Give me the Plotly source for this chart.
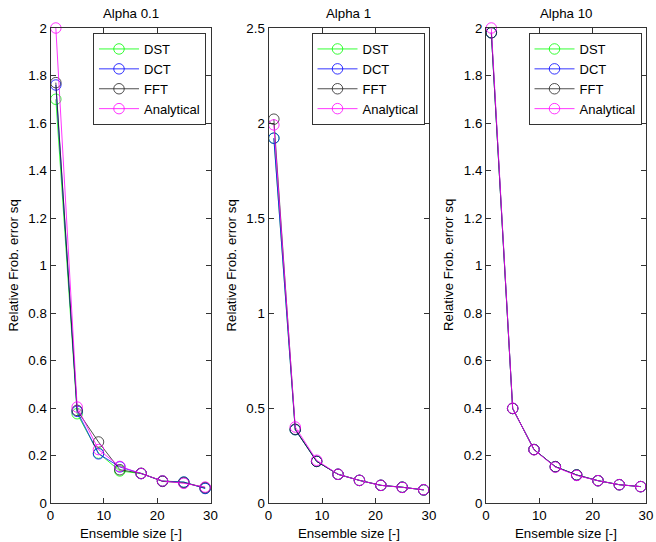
import plotly.graph_objects as go

ensemble = [1, 5, 9, 13, 17, 21, 25, 29]
titles = ["Alpha 0.1", "Alpha 1", "Alpha 10"]
methods = ["DST", "DCT", "FFT", "Analytical"]
xlabel = "Ensemble size [-]"
ylabel = "Relative Frob. error sq"

# Panel 1: Alpha 0.1
a01_dst = [1.70, 0.376, 0.210, 0.135, 0.124, 0.093, 0.088, 0.062]
a01_dct = [1.76, 0.386, 0.207, 0.152, 0.124, 0.092, 0.088, 0.061]
a01_fft = [1.77, 0.390, 0.257, 0.140, 0.125, 0.091, 0.085, 0.065]
a01_ana = [2.00, 0.404, 0.225, 0.154, 0.124, 0.093, 0.083, 0.067]

# Panel 2: Alpha 1
a1_dst = [1.92, 0.386, 0.219, 0.151, 0.119, 0.093, 0.083, 0.069]
a1_dct = [1.92, 0.386, 0.219, 0.151, 0.119, 0.093, 0.083, 0.069]
a1_fft = [2.02, 0.388, 0.219, 0.151, 0.119, 0.093, 0.083, 0.069]
a1_ana = [1.99, 0.400, 0.225, 0.151, 0.119, 0.093, 0.082, 0.070]

# Panel 3: Alpha 10
a10_dst = [1.98, 0.398, 0.225, 0.153, 0.118, 0.094, 0.077, 0.069]
a10_dct = [1.98, 0.398, 0.225, 0.153, 0.118, 0.094, 0.077, 0.069]
a10_fft = [1.98, 0.398, 0.225, 0.153, 0.118, 0.094, 0.077, 0.069]
a10_ana = [2.00, 0.399, 0.224, 0.151, 0.116, 0.094, 0.077, 0.069]

panels = [
    [a01_dst, a01_dct, a01_fft, a01_ana],
    [a1_dst, a1_dct, a1_fft, a1_ana],
    [a10_dst, a10_dct, a10_fft, a10_ana],
]
yranges = [[0, 2], [0, 2.5], [0, 2]]
ydticks = [0.2, 0.5, 0.2]

colors = ["#00ff00", "#0000ff", "#222222", "#ff00ff"]

W, H = 656, 542
xpix = [(50.5, 210.5), (268.5, 429), (486, 646)]
ytop, ybot = 28, 503


def fx(px):
    return px / W


def fy(py):
    return 1 - py / H


ydom = [fy(ybot), fy(ytop)]

FONT = "Liberation Sans, Arial, Helvetica, sans-serif"
FS = 13.3
fig = go.Figure()

for p, data in enumerate(panels):
    sfx = "" if p == 0 else str(p + 1)
    for m, vals in enumerate(data):
        fig.add_trace(go.Scatter(
            x=ensemble, y=vals, name=methods[m],
            mode="lines+markers", cliponaxis=False,
            line=dict(color=colors[m], width=0.8),
            marker=dict(symbol="circle-open", size=10.5, color=colors[m],
                        line=dict(width=0.8, color=colors[m])),
            xaxis="x" + sfx, yaxis="y" + sfx,
            legend="legend" + sfx,
        ))
    x0, x1 = xpix[p]
    axis_common = dict(
        showline=True, linecolor="#333333", linewidth=1, mirror="ticks",
        ticks="inside", ticklen=5, tickcolor="#333333", tickwidth=1,
        showgrid=False, zeroline=False, automargin=False,
        tickfont=dict(family=FONT, size=FS, color="black"),
    )
    fig.layout["xaxis" + sfx] = dict(
        domain=[fx(x0), fx(x1)], range=[0, 30], tick0=0, dtick=10,
        anchor="y" + sfx, **axis_common)
    fig.layout["yaxis" + sfx] = dict(
        domain=ydom, range=yranges[p], tick0=0, dtick=ydticks[p],
        anchor="x" + sfx, **axis_common)
    fig.layout["legend" + sfx] = dict(
        x=fx(x1 - 4.5), y=fy(33), xanchor="right", yanchor="top",
        bgcolor="white", bordercolor="#333333", borderwidth=1,
        font=dict(family=FONT, size=13, color="black"),
        tracegroupgap=0, itemwidth=40,
    )
    cx = (x0 + x1) / 2
    fig.add_annotation(text=titles[p], x=fx(cx), y=fy(14), xref="paper", yref="paper",
                       xanchor="center", yanchor="middle",
                       showarrow=False, font=dict(family=FONT, size=FS, color="black"))
    fig.add_annotation(text=xlabel, x=fx(cx), y=fy(533), xref="paper", yref="paper",
                       xanchor="center", yanchor="middle",
                       showarrow=False, font=dict(family=FONT, size=FS, color="black"))
    fig.add_annotation(text=ylabel, x=fx(x0 - 37.5), y=fy(265.5),
                       xref="paper", yref="paper", textangle=-90,
                       xanchor="center", yanchor="middle",
                       showarrow=False, font=dict(family=FONT, size=FS, color="black"))

fig.update_layout(
    width=W, height=H, margin=dict(l=0, r=0, t=0, b=0, autoexpand=False),
    paper_bgcolor="white", plot_bgcolor="white",
    font=dict(family=FONT, size=FS, color="black"),
)

fig.write_html("out.html", config={"displayModeBar": False},
               post_script="document.body.style.margin='0px';")
